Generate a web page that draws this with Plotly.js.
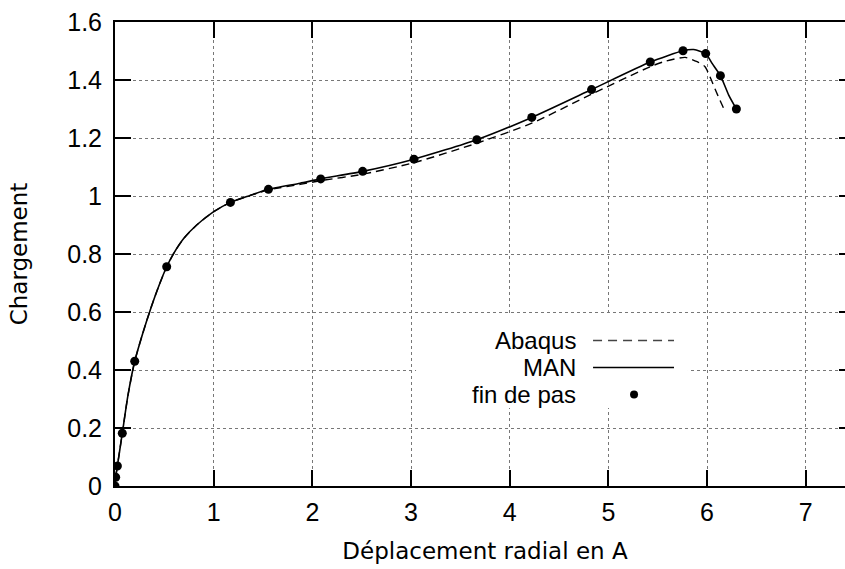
<!DOCTYPE html>
<html>
<head>
<meta charset="utf-8">
<script src="https://cdn.plot.ly/plotly-3.0.1.min.js"></script>
<style>
html, body { margin: 0; padding: 0; overflow: hidden; background: #fff; }
#chart { width: 856px; height: 569px; }
</style>
</head>
<body>
<div id="chart"></div>
<script>
// "fin de pas" (end-of-step points of MAN)
const stepX = [0, 0.007, 0.024, 0.074, 0.2, 0.524, 1.17, 1.555, 2.085, 2.51, 3.03, 3.667, 4.224, 4.83, 5.425, 5.757, 5.987, 6.136, 6.298];
const stepY = [0, 0.03, 0.069, 0.182, 0.43, 0.756, 0.978, 1.023, 1.059, 1.085, 1.127, 1.194, 1.271, 1.367, 1.462, 1.501, 1.491, 1.415, 1.300];

// MAN curve (solid)
const manX = [0, 0.007, 0.024, 0.074, 0.13, 0.2, 0.28, 0.37, 0.45, 0.524, 0.6, 0.7, 0.828, 0.997, 1.17, 1.37, 1.555, 1.876, 2.085, 2.51, 3.03, 3.667, 4.224, 4.83, 5.425, 5.757, 5.865, 5.987, 6.05, 6.136, 6.22, 6.298];
const manY = [0, 0.03, 0.069, 0.182, 0.31, 0.43, 0.525, 0.62, 0.695, 0.756, 0.805, 0.855, 0.9, 0.945, 0.978, 1.002, 1.023, 1.044, 1.059, 1.085, 1.127, 1.194, 1.271, 1.367, 1.462, 1.501, 1.505, 1.491, 1.458, 1.415, 1.348, 1.300];

// Abaqus curve (dashed)
const abaX = [0, 0.007, 0.024, 0.074, 0.13, 0.2, 0.28, 0.37, 0.45, 0.524, 0.6, 0.7, 0.828, 0.997, 1.17, 1.37, 1.555, 1.876, 2.085, 2.51, 3.03, 3.667, 4.224, 4.83, 5.425, 5.59, 5.78, 5.90, 5.98, 6.03, 6.10, 6.18];
const abaY = [0, 0.03, 0.069, 0.182, 0.31, 0.43, 0.525, 0.62, 0.695, 0.756, 0.805, 0.855, 0.9, 0.945, 0.978, 1.002, 1.021, 1.04, 1.053, 1.075, 1.115, 1.182, 1.251, 1.351, 1.446, 1.466, 1.478, 1.463, 1.446, 1.411, 1.354, 1.294];

const xTickVals = [0, 1, 2, 3, 4, 5, 6, 7];
const xTickText = ["0", "1", "2", "3", "4", "5", "6", "7"];
const yTickVals = [0, 0.2, 0.4, 0.6, 0.8, 1, 1.2, 1.4, 1.6];
const yTickText = ["0", "0.2", "0.4", "0.6", "0.8", "1", "1.2", "1.4", "1.6"];

const legendNames = ["Abaqus", "MAN", "fin de pas"];

const tickFont = { family: "Liberation Sans, Arial, sans-serif", size: 25, color: "#000" };
const titleFont = { family: "DejaVu Sans, sans-serif", size: 23, color: "#000" };

const traces = [
  { x: abaX, y: abaY, mode: "lines", name: legendNames[0],
    line: { color: "#000", width: 1.4, dash: "8px,5px", shape: "spline", smoothing: 0.6 } },
  { x: manX, y: manY, mode: "lines", name: legendNames[1],
    line: { color: "#000", width: 1.6, shape: "spline", smoothing: 0.6 } },
  { x: stepX, y: stepY, mode: "markers", name: legendNames[2],
    marker: { color: "#000", size: 9 } }
];

const axisCommon = {
  showline: true, linecolor: "#000", linewidth: 2, mirror: "ticks",
  ticks: "inside", ticklen: 16, tickwidth: 2, tickcolor: "#000",
  showgrid: true, gridcolor: "#777", griddash: "dot", gridwidth: 1,
  zeroline: false, tickfont: tickFont, fixedrange: true
};

// legend box geometry (paper coords)
const legTextX = 0.6243;
const legLineX0 = 0.646, legLineX1 = 0.7554, legDotX = 0.7014;
const legRowY = [0.3136, 0.2554, 0.1972];

const layout = {
  width: 856, height: 569,
  margin: { l: 115, r: 1, t: 22, b: 83 },
  paper_bgcolor: "#fff", plot_bgcolor: "#fff",
  showlegend: false,
  xaxis: Object.assign({}, axisCommon, {
    range: [0, 7.5], tickvals: xTickVals, ticktext: xTickText,
    ticklabelstandoff: 3,
    title: { text: "Déplacement radial en A", font: titleFont, standoff: 18 }
  }),
  yaxis: Object.assign({}, axisCommon, {
    range: [0, 1.6], tickvals: yTickVals, ticktext: yTickText,
    ticklabelstandoff: 6,
    title: { text: "Chargement", font: titleFont, standoff: 33 }
  }),
  shapes: [
    { type: "rect", xref: "paper", yref: "paper", x0: 0.4068, x1: 0.7743, y0: 0.1681, y1: 0.3728,
      fillcolor: "#fff", line: { width: 0 }, layer: "above" },
    { type: "line", xref: "paper", yref: "paper", x0: legLineX0, x1: legLineX1, y0: legRowY[0], y1: legRowY[0],
      line: { color: "#444", width: 1.4, dash: "9px,6px" }, layer: "above" },
    { type: "line", xref: "paper", yref: "paper", x0: legLineX0, x1: legLineX1, y0: legRowY[1], y1: legRowY[1],
      line: { color: "#000", width: 1.6 }, layer: "above" },
    { type: "circle", xref: "paper", yref: "paper", xsizemode: "pixel", ysizemode: "pixel",
      xanchor: legDotX, yanchor: legRowY[2], x0: -4, x1: 4, y0: -4, y1: 4,
      fillcolor: "#000", line: { width: 0 }, layer: "above" }
  ],
  annotations: legendNames.map((t, i) => ({
    text: t, xref: "paper", yref: "paper", x: legTextX, y: legRowY[i],
    xanchor: "right", yanchor: "middle", showarrow: false, borderpad: 0,
    font: { family: "Liberation Sans, Arial, sans-serif", size: 24, color: "#000" }
  }))
};

Plotly.newPlot("chart", traces, layout, { staticPlot: true, displayModeBar: false });
</script>
</body>
</html>
